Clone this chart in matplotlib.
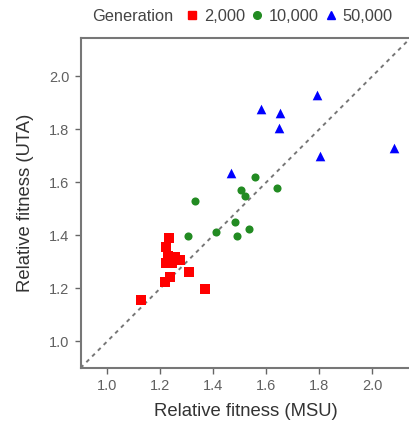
import matplotlib
matplotlib.use("Agg")
import matplotlib.pyplot as plt
from matplotlib.lines import Line2D

plt.rcParams['font.family'] = ['Liberation Sans', 'DejaVu Sans']

# Generation 2,000
msu_2k = [1.232, 1.221, 1.230, 1.258, 1.275, 1.223, 1.245, 1.240, 1.308, 1.238, 1.220, 1.371, 1.127]
uta_2k = [1.390, 1.356, 1.323, 1.317, 1.308, 1.296, 1.296, 1.305, 1.262, 1.243, 1.226, 1.199, 1.158]
# Generation 10,000
msu_10k = [1.331, 1.560, 1.507, 1.521, 1.642, 1.482, 1.537, 1.492, 1.411, 1.304]
uta_10k = [1.531, 1.619, 1.570, 1.550, 1.579, 1.449, 1.425, 1.399, 1.413, 1.399]
# Generation 50,000
msu_50k = [1.791, 1.580, 1.653, 1.650, 1.805, 2.082, 1.466]
uta_50k = [1.928, 1.876, 1.862, 1.807, 1.700, 1.731, 1.636]

labels = ['2,000', '10,000', '50,000']
colors = ['#ff0000', '#228b22', '#0000ff']
markers = ['s', 'o', '^']
sizes = [42, 34, 48]
ticks = [1.0, 1.2, 1.4, 1.6, 1.8, 2.0]

fig = plt.figure(figsize=(4.09, 4.22), dpi=100)
ax = fig.add_axes([0.197, 0.128, 0.81, 0.782])

ax.axline((1.0, 1.0), slope=1, color='#777777', linestyle=(0, (2, 2.2)), linewidth=1.4, zorder=1)

data = [(msu_2k, uta_2k), (msu_10k, uta_10k), (msu_50k, uta_50k)]
for (x, y), c, m, s in zip(data, colors, markers, sizes):
    ax.scatter(x, y, color=c, marker=m, s=s, linewidths=0, zorder=3)

ax.set_xlim(0.9, 2.15)
ax.set_ylim(0.9, 2.145)
ax.set_xticks(ticks)
ax.set_yticks(ticks)
ax.set_xticklabels([f'{t:.1f}' for t in ticks])
ax.set_yticklabels([f'{t:.1f}' for t in ticks])
ax.tick_params(direction='out', length=4, width=1, colors='#666666',
               labelcolor='#606060', labelsize=10.5, pad=4)
for sp in ax.spines.values():
    sp.set_color('#777777')
    sp.set_linewidth(1.5)

ax.set_xlabel('Relative fitness (MSU)', fontsize=13.3, color='#333333', labelpad=7)
ax.set_ylabel('Relative fitness (UTA)', fontsize=13.3, color='#333333', labelpad=11)

fig.text(0.225, 0.962, 'Generation', fontsize=11.8, color='#444444', va='center')
handles = [Line2D([], [], linestyle='none', marker=m, color=c, markersize=5.5)
           for m, c in zip(markers, colors)]
fig.legend(handles, labels, loc='center left', bbox_to_anchor=(0.458, 0.962), ncol=3,
           frameon=False, fontsize=11.8, handlelength=0.6, handletextpad=0.4,
           columnspacing=0.45, borderaxespad=0, borderpad=0, labelcolor='#444444')

fig.savefig('out.png', dpi=100)
